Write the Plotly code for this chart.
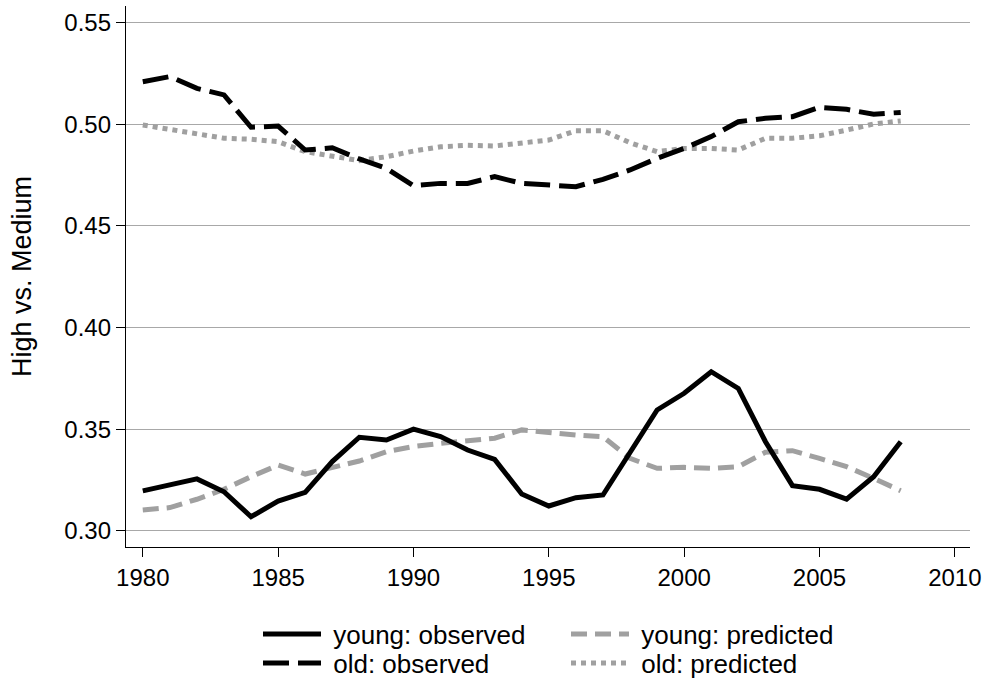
import plotly.graph_objects as go

years = list(range(1980, 2009))

young_observed = [0.3197, 0.3226, 0.3256, 0.3193, 0.3070, 0.3147, 0.3190, 0.3341, 0.3461, 0.3447,
                  0.3501, 0.3464, 0.3398, 0.3352, 0.3182, 0.3123, 0.3164, 0.3177, 0.3387, 0.3595,
                  0.3677, 0.3783, 0.3701, 0.3440, 0.3223, 0.3205, 0.3157, 0.3267, 0.3439]

young_predicted = [0.3103, 0.3115, 0.3156, 0.3205, 0.3267, 0.3324, 0.3280, 0.3311, 0.3344, 0.3390,
                   0.3415, 0.3431, 0.3444, 0.3456, 0.3497, 0.3483, 0.3472, 0.3464, 0.3357, 0.3308,
                   0.3313, 0.3308, 0.3316, 0.3387, 0.3395, 0.3357, 0.3316, 0.3259, 0.3198]

old_observed = [0.5209, 0.5234, 0.5176, 0.5144, 0.4985, 0.4991, 0.4873, 0.4884, 0.4829, 0.4783,
                0.4698, 0.4709, 0.4709, 0.4742, 0.4709, 0.4698, 0.4693, 0.4729, 0.4775, 0.4832,
                0.4881, 0.4939, 0.5012, 0.5029, 0.5037, 0.5083, 0.5073, 0.5049, 0.5058]

old_predicted = [0.4996, 0.4975, 0.4950, 0.4931, 0.4926, 0.4914, 0.4865, 0.4840, 0.4821, 0.4840,
                 0.4868, 0.4889, 0.4896, 0.4893, 0.4906, 0.4922, 0.4968, 0.4968, 0.4909, 0.4865,
                 0.4881, 0.4881, 0.4873, 0.4931, 0.4931, 0.4943, 0.4971, 0.5001, 0.5016]

x_ticks = [1980, 1985, 1990, 1995, 2000, 2005, 2010]
y_ticks = [0.30, 0.35, 0.40, 0.45, 0.50, 0.55]
y_title = "High vs. Medium"

FONT = "Liberation Sans, Arial, sans-serif"
BLACK = "#000000"
GRAY = "#a0a0a0"
NBSP = "\u00a0"

fig = go.Figure()

series = [
    ("young: observed", young_observed, BLACK, "solid", "legend"),
    ("young: predicted", young_predicted, GRAY, "16px,8px", "legend2"),
    ("old: observed", old_observed, BLACK, "26px,9px", "legend3"),
    ("old: predicted", old_predicted, GRAY, "5px,5px", "legend4"),
]
# draw order: predicted below observed
for name, vals, color, dash, leg in [series[3], series[1], series[2], series[0]]:
    fig.add_trace(go.Scatter(
        x=years, y=vals, mode="lines", name=NBSP + name,
        line=dict(color=color, width=5, dash=dash),
        legend=leg, showlegend=True,
    ))

W, H = 988, 687
ml, mr, mt, mb = 126, 18, 6, 140
pw = W - ml - mr
ph = H - mt - mb

def px_x(p):
    return (p - ml) / pw

def px_y(p):
    return (H - mb - p) / ph

leg_common = dict(
    orientation="h", xanchor="left", yanchor="middle",
    font=dict(family=FONT, size=26, color=BLACK),
    bgcolor="rgba(0,0,0,0)", borderwidth=0, itemwidth=58,
    traceorder="normal",
)

fig.update_layout(
    width=W, height=H,
    margin=dict(l=ml, r=mr, t=mt, b=mb, pad=0, autoexpand=False),
    paper_bgcolor="white", plot_bgcolor="white",
    font=dict(family=FONT, size=24, color=BLACK),
    legend=dict(x=px_x(258), y=px_y(634), **leg_common),
    legend2=dict(x=px_x(566), y=px_y(634), **leg_common),
    legend3=dict(x=px_x(258), y=px_y(663), **leg_common),
    legend4=dict(x=px_x(566), y=px_y(663), **leg_common),
    xaxis=dict(
        range=[1979.38, 2010.56], tickvals=x_ticks, ticktext=[str(t) for t in x_ticks],
        showgrid=False, zeroline=False,
        showline=True, linecolor=BLACK, linewidth=1.3,
        ticks="outside", ticklen=9, tickwidth=1.3, tickcolor=BLACK,
        tickfont=dict(family=FONT, size=24, color=BLACK),
    ),
    yaxis=dict(
        range=[0.29213, 0.55811], tickvals=y_ticks, ticktext=["%.2f" % t for t in y_ticks],
        showgrid=True, gridcolor="#a8a8a8", gridwidth=1, zeroline=False,
        showline=True, linecolor=BLACK, linewidth=1.3,
        ticks="outside", ticklen=9, tickwidth=1.3, tickcolor=BLACK,
        tickfont=dict(family=FONT, size=24, color=BLACK),
        title=dict(text=y_title, font=dict(family=FONT, size=27, color=BLACK), standoff=24),
    ),
)

fig.write_html("out.html")
